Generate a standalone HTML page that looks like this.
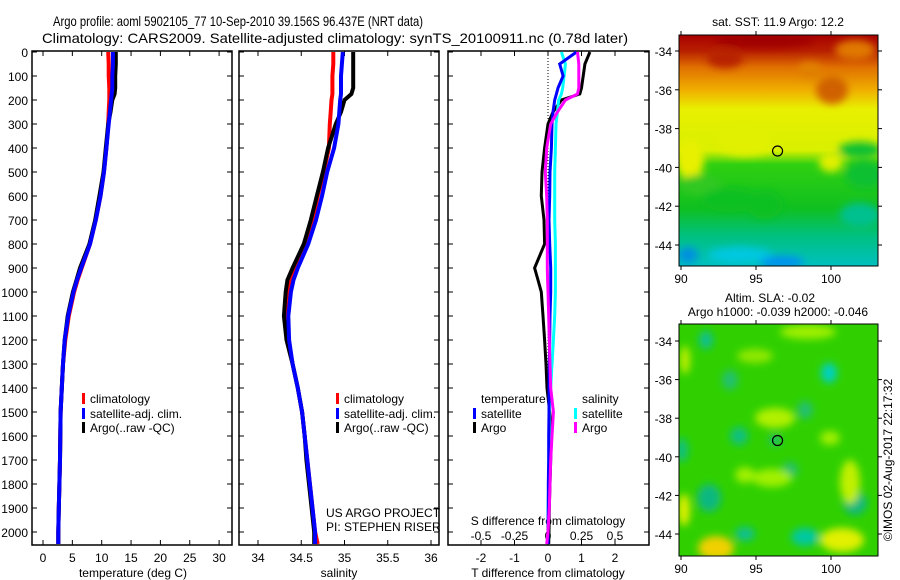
<!DOCTYPE html>
<html><head><meta charset="utf-8"><style>
html,body{margin:0;padding:0;background:#fff;}
svg{display:block;font-family:"Liberation Sans",sans-serif;}
</style></head><body>
<svg id="chart" width="900" height="580" viewBox="0 0 900 580" xmlns="http://www.w3.org/2000/svg">
<defs>
<filter id="blur1" x="-20%" y="-20%" width="140%" height="140%"><feGaussianBlur stdDeviation="4"/></filter>
<clipPath id="clipM1"><rect x="679" y="35" width="199" height="231"/></clipPath>
<clipPath id="clipM2"><rect x="679" y="324" width="199" height="232"/></clipPath>
<linearGradient id="sstGrad" x1="0" y1="0" x2="0" y2="1">
<stop offset="0" stop-color="#a80000"/><stop offset="0.07" stop-color="#b82000"/><stop offset="0.14" stop-color="#e07000"/>
<stop offset="0.24" stop-color="#f0b000"/><stop offset="0.32" stop-color="#e8f000"/><stop offset="0.5" stop-color="#d8f000"/>
<stop offset="0.56" stop-color="#30d010"/><stop offset="0.75" stop-color="#10c020"/><stop offset="0.87" stop-color="#00c080"/>
<stop offset="1" stop-color="#00c0c0"/></linearGradient>
</defs>
<g id="layer"></g>
</svg>
<script>
// ---- data ----
const depths = [0,50,100,150,175,200,250,300,400,500,600,700,800,900,950,1000,1100,1200,1300,1400,1500,1600,1700,1800,1900,2000,2050];
const tempClim = [11.1,11.2,11.2,11.3,11.3,11.3,11.2,11.1,10.8,10.4,9.8,9.0,8.0,6.6,5.9,5.3,4.4,3.8,3.4,3.2,3.0,2.95,2.9,2.8,2.7,2.6,2.6];
const tempSat  = [11.9,11.9,11.8,11.8,11.7,11.6,11.4,11.2,10.8,10.4,9.8,9.0,8.0,6.5,5.8,5.2,4.3,3.7,3.4,3.2,3.0,2.95,2.9,2.8,2.7,2.6,2.6];
const tempArgo = [12.4,12.4,12.3,12.3,12.2,11.8,11.5,11.1,10.7,10.3,9.6,8.9,7.9,6.3,5.7,5.1,4.2,3.7,3.4,3.2,3.0,2.95,2.9,2.8,2.7,2.6,2.6];
const salClim = [34.87,34.87,34.86,34.86,34.86,34.85,34.84,34.83,34.82,34.76,34.69,34.63,34.54,34.42,34.37,34.36,34.34,34.35,34.40,34.46,34.51,34.54,34.57,34.60,34.63,34.66,34.69];
const salSat  = [34.98,34.97,34.96,34.96,34.96,34.95,34.94,34.93,34.88,34.80,34.74,34.67,34.58,34.46,34.41,34.38,34.35,34.36,34.40,34.46,34.51,34.54,34.57,34.60,34.63,34.66,34.66];
const salArgo = [35.10,35.10,35.10,35.10,35.08,35.0,34.96,34.90,34.81,34.75,34.68,34.61,34.53,34.40,34.34,34.32,34.30,34.33,34.40,34.46,34.51,34.54,34.56,34.59,34.62,34.65,34.65];
const dTsat  = [0.85,0.35,0.45,0.3,0.25,0.2,0.15,0.12,0.1,0.06,0.05,0.03,0.05,0.08,0.08,0.08,0.06,0.05,0.04,0.03,0.03,0.02,0.02,0.01,0.01,0.0,0.0];
const dTargo = [1.25,1.1,1.05,1.0,0.95,0.4,0.15,0.0,-0.1,-0.18,-0.2,-0.12,-0.1,-0.4,-0.3,-0.2,-0.15,-0.1,-0.06,-0.03,0.05,0.1,0.08,0.06,0.04,0.03,0.02];
const dSsat  = [0.1,0.13,0.12,0.11,0.1,0.08,0.07,0.06,0.055,0.05,0.05,0.05,0.055,0.055,0.055,0.055,0.05,0.04,0.03,0.02,0.01,0.01,0.005,0.005,0.0,0.0,0.0];
const dSargo = [0.22,0.23,0.23,0.23,0.22,0.13,0.07,0.02,-0.01,-0.02,-0.01,-0.005,-0.005,-0.005,-0.003,0.0,0.005,0.01,0.015,0.02,0.04,0.03,0.02,0.015,0.01,0.0,-0.01];
const depthTicks = [0,100,200,300,400,500,600,700,800,900,1000,1100,1200,1300,1400,1500,1600,1700,1800,1900,2000];
const tempTicks = [0,5,10,15,20,25,30];
const salTicks = [34,34.5,35,35.5,36];
const salTickLabels = ["34","34.5","35","35.5","36"];
const dTTicks = [-2,-1,0,1,2];
const dSTicks = [-0.5,-0.25,0,0.25,0.5];
const dSTickLabels = ["-0.5","-0.25","0","0.25","0.5"];
const lonTicks = [90,95,100];
const latTicks = [-34,-36,-38,-40,-42,-44];
const argoLon = [96.437];
const argoLat = [-39.156];

// ---- scales ----
const yD = d => 52 + d*0.24;
const xT = t => 43 + t*5.87;
const xS = s => 258 + (s-34)*86.5;
const xdT = t => 548 + t*33.5;
const xdS = s => 548 + s*134;
const lonX = l => 681 + (l-90)*15;
const latY1 = a => 51 + (-34 - a)*19.4;
const latY2 = a => 341 + (-34 - a)*19.3;

const NS='http://www.w3.org/2000/svg';
const L=document.getElementById('layer');
function mk(tag,at,parent){const e=document.createElementNS(NS,tag);for(const k in at)e.setAttribute(k,at[k]);(parent||L).appendChild(e);return e;}
function txt(x,y,s,size,anchor,extra){const e=mk('text',Object.assign({x:x,y:y,'font-size':size||12,'text-anchor':anchor||'middle',fill:'#000'},extra||{}));e.textContent=s;return e;}

// titles
let t1=txt(53,26,'Argo profile: aoml 5902105_77 10-Sep-2010 39.156S 96.437E (NRT data)',14,'start',{textLength:370,lengthAdjust:'spacingAndGlyphs'});


let t2=txt(42,43,'Climatology: CARS2009. Satellite-adjusted climatology: synTS_20100911.nc (0.78d later)',14,'start',{textLength:586,lengthAdjust:'spacingAndGlyphs'});



function panel(x0,x1,name){
  const r=mk('rect',{x:x0,y:51,width:x1-x0,height:494,fill:'none',stroke:'#000','stroke-width':1.5});
  
  
  depthTicks.forEach(d=>{const y=yD(d);mk('line',{x1:x0,x2:x0+5,y1:y,y2:y,stroke:'#000'});mk('line',{x1:x1-5,x2:x1,y1:y,y2:y,stroke:'#000'});});
}
panel(32,232,'temperature-panel');
panel(239,439,'salinity-panel');
panel(448,649,'difference-panel');

depthTicks.forEach(d=>{const e=txt(28,yD(d)+5,String(d),12,'end');

});

function xticks(ticks,labels,sx,yl,top){ticks.forEach((v,i)=>{const x=sx(v);
 mk('line',{x1:x,x2:x,y1:545,y2:540,stroke:'#000'});if(top)mk('line',{x1:x,x2:x,y1:51,y2:56,stroke:'#000'});
 const e=txt(x,yl,labels[i],12);
 
 });}
xticks(tempTicks,tempTicks.map(String),xT,562,true);
xticks(salTicks,salTickLabels,xS,562,true);
xticks(dTTicks,dTTicks.map(String),xdT,562,true);
dSTicks.forEach((v,i)=>{const e=txt(xdS(v),540,dSTickLabels[i],12);
 
 });
let a1=txt(133,577,'temperature (deg C)',12);
let a2=txt(339,577,'salinity',12);
let a3=txt(548,577,'T difference from climatology',12);
let a4=txt(548,525,'S difference from climatology',12);

mk('line',{x1:xdT(0),x2:xdT(0),y1:52,y2:545,stroke:'#000','stroke-dasharray':'1,2'});

function series(vals,sx,color,w,name){
  const pts=vals.map((v,i)=>sx(v).toFixed(1)+','+yD(depths[i]).toFixed(1)).join(' ');
  const p=mk('polyline',{points:pts,fill:'none',stroke:color,'stroke-width':w,'stroke-linejoin':'miter'});
  
  
}
series(tempClim,xT,'#ff0000',4,'temp-climatology-line');
series(tempArgo,xT,'#000000',4,'temp-argo-line');
series(tempSat,xT,'#0000ff',4,'temp-satellite-line');
series(salClim,xS,'#ff0000',4,'sal-climatology-line');
series(salArgo,xS,'#000000',4,'sal-argo-line');
series(salSat,xS,'#0000ff',4,'sal-satellite-line');
series(dTargo,xdT,'#000000',3,'tdiff-argo-line');
series(dSsat,xdS,'#00ffff',3,'sdiff-satellite-line');
series(dTsat,xdT,'#0000ff',3,'tdiff-satellite-line');
series(dSargo,xdS,'#ff00ff',3,'sdiff-argo-line');

function legend(x,y,color,label,name){
  const g=mk('g',{});
  
  
  mk('rect',{x:x,y:y-10,width:3,height:11,fill:color},g);
  const e=mk('text',{x:x+8,y:y,'font-size':12},g);e.textContent=label;
}
legend(82,403,'#ff0000','climatology','legend-climatology');
legend(82,418,'#0000ff','satellite-adj. clim.','legend-satellite');
legend(82,432,'#000000','Argo(..raw -QC)','legend-argo');
legend(336,403,'#ff0000','climatology','legend-climatology-sal');
legend(336,418,'#0000ff','satellite-adj. clim.','legend-satellite-sal');
legend(336,432,'#000000','Argo(..raw -QC)','legend-argo-sal');
let lt=txt(481,403,'temperature',12,'start');
let ls=txt(582,403,'salinity',12,'start');
legend(473,418,'#0000ff','satellite','legend-t-satellite');
legend(473,432,'#000000','Argo','legend-t-argo');
legend(574,418,'#00ffff','satellite','legend-s-satellite');
legend(574,432,'#ff00ff','Argo','legend-s-argo');
let pr1=txt(326,517,'US ARGO PROJECT',12,'start');
let pr2=txt(326,531,'PI: STEPHEN RISER',12,'start');

// ---- maps ----
function mapFrame(y0,h,latY,name){
  const r=mk('rect',{x:679,y:y0,width:199,height:h,fill:'none',stroke:'#000','stroke-width':1});
  
  
  lonTicks.forEach(l=>{const x=lonX(l);mk('line',{x1:x,x2:x,y1:y0,y2:y0-4,stroke:'#000'});mk('line',{x1:x,x2:x,y1:y0+h,y2:y0+h+4,stroke:'#000'});
    const e=txt(x,y0+h+17,String(l),12);});
  latTicks.forEach(a=>{const y=latY(a);mk('line',{x1:679,x2:675,y1:y,y2:y,stroke:'#000'});mk('line',{x1:878,x2:882,y1:y,y2:y,stroke:'#000'});
    const e=txt(672,y+5,String(a),12,'end');});
  const c=mk('circle',{cx:lonX(argoLon[0]),cy:latY(argoLat[0]),r:5,fill:'none',stroke:'#000','stroke-width':1.2});
  
  
}
// map1 SST
const g1=mk('g',{'clip-path':'url(#clipM1)'});


mk('rect',{x:679,y:35,width:199,height:231,fill:'url(#sstGrad)'},g1);
const b1=mk('g',{filter:'url(#blur1)'},g1);
[[725,58,18,10,'#b82000'],[765,40,50,8,'#a00000'],[832,90,16,14,'#d06000'],[855,50,20,10,'#e07800'],[810,70,12,8,'#e08000'],
 [690,160,14,20,'#e8f000'],[745,140,30,16,'#e0f000'],[831,162,12,10,'#e0f000'],
 [700,185,22,10,'#30c820'],[730,200,30,12,'#10c020'],[860,150,22,8,'#10c030'],[865,175,20,14,'#10c030'],[765,205,18,14,'#10c020'],
 [740,255,32,8,'#00c8e0'],[782,262,22,6,'#0090f0'],[860,215,20,12,'#00c090'],[688,255,10,8,'#0090e0']
].forEach(b=>mk('ellipse',{cx:b[0],cy:b[1],rx:b[2],ry:b[3],fill:b[4]},b1));
mapFrame(35,231,latY1,'sst-map-frame');
let m1=txt(778,26,'sat. SST: 11.9 Argo: 12.2',12);

// map2 SLA
const g2=mk('g',{'clip-path':'url(#clipM2)'});


mk('rect',{x:679,y:324,width:199,height:232,fill:'#30d000'},g2);
const b2=mk('g',{filter:'url(#blur1)'},g2);
[[706,340,7,9,'#10c090'],[829,373,8,10,'#00d0c0'],[739,436,9,9,'#10c080'],[682,450,6,12,'#10c080'],[709,498,12,14,'#10b880'],[855,503,12,12,'#10b880'],
 [805,537,14,9,'#00c8a0'],[745,534,10,7,'#10c090'],[805,410,8,9,'#20c070'],[775,440,6,6,'#20c070'],[790,470,8,8,'#20c070'],[730,380,8,10,'#20c070'],
 [775,418,20,10,'#b0f000'],[745,475,10,8,'#a0f000'],[850,482,10,22,'#c0f000'],[772,478,20,9,'#a0f000'],[716,548,18,12,'#f0d000'],[842,540,22,12,'#e0f000'],
 [808,332,28,7,'#a0f000'],[684,510,6,16,'#e0f000'],[755,356,18,7,'#90e800'],[685,360,5,14,'#c0f000'],[830,438,10,7,'#a0f000']
].forEach(b=>mk('ellipse',{cx:b[0],cy:b[1],rx:b[2],ry:b[3],fill:b[4]},b2));
mapFrame(324,232,latY2,'sla-map-frame');
let m2=txt(770,302,'Altim. SLA: -0.02',12);
let m3=txt(778,316,'Argo h1000: -0.039 h2000: -0.046',12);
let cr=txt(0,0,'©IMOS 02-Aug-2017 22:17:32',12,'middle',{transform:'translate(892,460) rotate(-90)'});


</script>
</body></html>
